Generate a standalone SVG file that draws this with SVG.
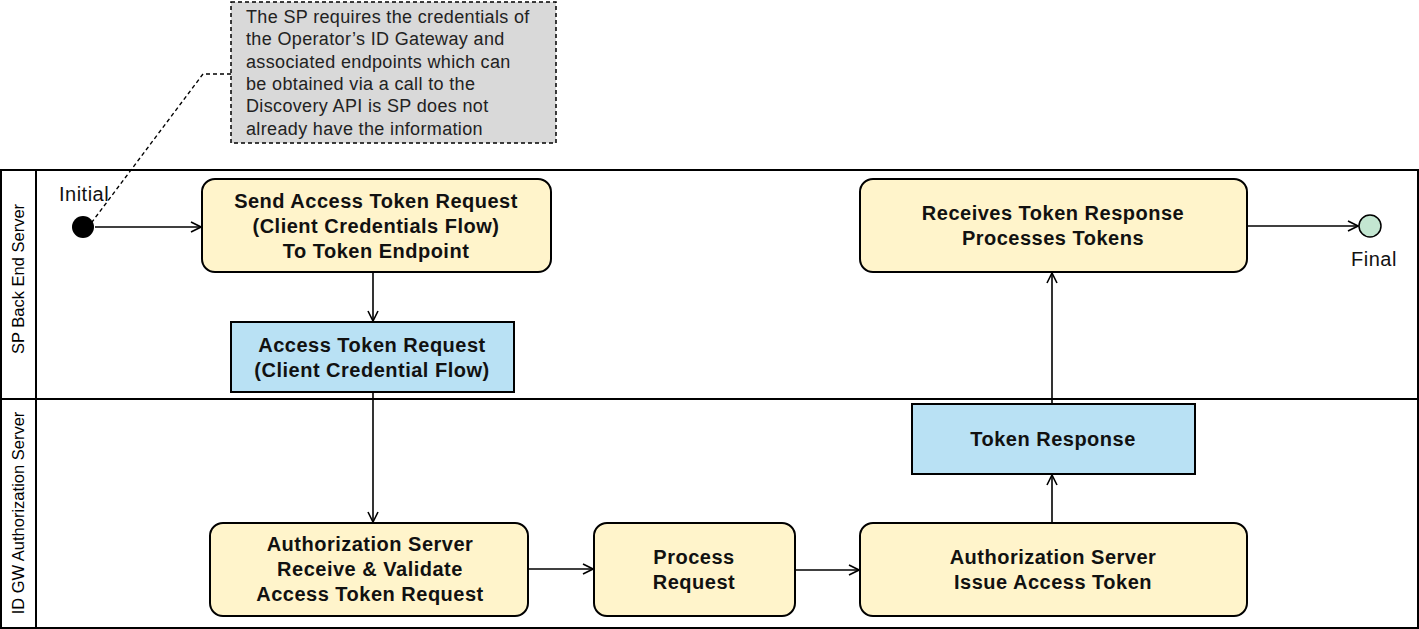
<svg xmlns="http://www.w3.org/2000/svg" width="1419" height="629" viewBox="0 0 1419 629">
<style>
.act{fill:#fff4cb;stroke:#000;stroke-width:2}
.obj{fill:#b9e1f4;stroke:#000;stroke-width:2}
.bt{font-family:"Liberation Sans",Arial,sans-serif;font-weight:bold;font-size:20px;letter-spacing:0.5px;fill:#111;text-anchor:middle}
.nt{font-family:"Liberation Sans",Arial,sans-serif;font-size:18px;letter-spacing:0.35px;fill:#222}
.lt{font-family:"Liberation Sans",Arial,sans-serif;font-size:16.5px;fill:#000;text-anchor:middle}
.lbl{font-family:"Liberation Sans",Arial,sans-serif;font-size:20px;letter-spacing:0.5px;fill:#111}
.cn{fill:none;stroke:#000;stroke-width:1.6;marker-end:url(#ah)}
</style>
<defs>
<marker id="ah" viewBox="0 0 12 12" refX="11" refY="6" markerWidth="12" markerHeight="12" markerUnits="userSpaceOnUse" orient="auto">
<path d="M1,1 L11,6 L1,11" fill="none" stroke="#000" stroke-width="1.6"/>
</marker>
</defs>
<rect width="1419" height="629" fill="#fff"/>
<g id="pool">
<rect x="1" y="170" width="1417" height="458" fill="none" stroke="#000" stroke-width="2"/>
<line x1="1" y1="399" x2="1418" y2="399" stroke="#000" stroke-width="2"/>
<line x1="36" y1="170" x2="36" y2="628" stroke="#000" stroke-width="2"/>
<text class="lt" transform="translate(24,279) rotate(-90)">SP Back End Server</text>
<text class="lt" transform="translate(24,513) rotate(-90)">ID GW Authorization Server</text>
</g>
<g id="note">
<rect x="231" y="2" width="325" height="141" fill="#d9d9d9" stroke="#000" stroke-width="1.5" stroke-dasharray="4,3"/>
<text class="nt" x="246" y="23">The SP requires the credentials of</text>
<text class="nt" x="246" y="45">the Operator’s ID Gateway and</text>
<text class="nt" x="246" y="68">associated endpoints which can</text>
<text class="nt" x="246" y="90">be obtained via a call to the</text>
<text class="nt" x="246" y="112">Discovery API is SP does not</text>
<text class="nt" x="246" y="135">already have the information</text>
</g>
<g id="initial">
<circle cx="83" cy="227" r="11" fill="#000"/>
<text class="lbl" x="59" y="201">Initial</text>
</g>
<g id="send">
<rect class="act" x="202" y="179" width="349" height="93" rx="13"/>
<text class="bt" x="376" y="208">Send Access Token Request</text>
<text class="bt" x="376" y="233">(Client Credentials Flow)</text>
<text class="bt" x="376" y="258">To Token Endpoint</text>
</g>
<g id="atr">
<rect class="obj" x="231" y="322" width="283" height="70"/>
<text class="bt" x="372" y="352">Access Token Request</text>
<text class="bt" x="372" y="377">(Client Credential Flow)</text>
</g>
<g id="receive">
<rect class="act" x="210" y="523" width="318" height="93" rx="13"/>
<text class="bt" x="370" y="551">Authorization Server</text>
<text class="bt" x="370" y="576">Receive &amp; Validate</text>
<text class="bt" x="370" y="601">Access Token Request</text>
</g>
<g id="process">
<rect class="act" x="594" y="523" width="201" height="93" rx="13"/>
<text class="bt" x="694" y="564">Process</text>
<text class="bt" x="694" y="589">Request</text>
</g>
<g id="issue">
<rect class="act" x="860" y="523" width="387" height="93" rx="13"/>
<text class="bt" x="1053" y="564">Authorization Server</text>
<text class="bt" x="1053" y="589">Issue Access Token</text>
</g>
<g id="tokresp">
<rect class="obj" x="912" y="404" width="283" height="70"/>
<text class="bt" x="1053" y="446">Token Response</text>
</g>
<g id="receives">
<rect class="act" x="860" y="179" width="387" height="93" rx="13"/>
<text class="bt" x="1053" y="220">Receives Token Response</text>
<text class="bt" x="1053" y="245">Processes Tokens</text>
</g>
<g id="final">
<circle cx="1370" cy="226" r="11" fill="#c3e6d1" stroke="#000" stroke-width="1.5"/>
<text class="lbl" x="1351" y="266">Final</text>
</g>
<g id="connectors">
<path d="M231,74 L203,74 L92,222" fill="none" stroke="#000" stroke-width="1.4" stroke-dasharray="4,3"/>
<path class="cn" d="M95,227 L201,227"/>
<path class="cn" d="M373,272 L373,321"/>
<path class="cn" d="M373,392 L373,522"/>
<path class="cn" d="M528,569 L593,569"/>
<path class="cn" d="M795,570 L859,570"/>
<path class="cn" d="M1052,523 L1052,475"/>
<path class="cn" d="M1052,404 L1052,273"/>
<path class="cn" d="M1247,226 L1358,226"/>
</g>
</svg>
